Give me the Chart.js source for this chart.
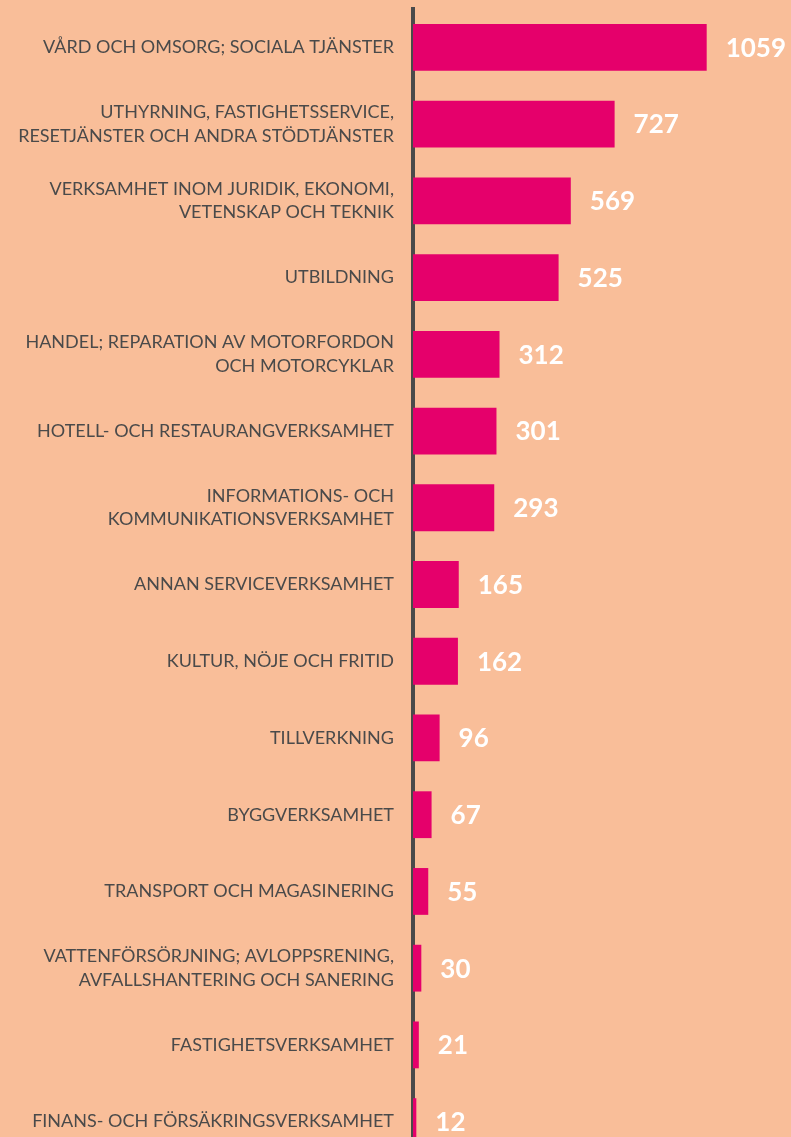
<!DOCTYPE html>
<html>
<head>
<meta charset="utf-8">
<script src="https://cdn.jsdelivr.net/npm/chart.js@4"></script>
<style>
  html, body { margin: 0; padding: 0; overflow: hidden; background: #F9BE99; }
  #wrap { width: 791px; height: 1160px; }
</style>
</head>
<body>
<div id="wrap"><canvas id="myChart"></canvas></div>
<script>
// branscher (labels split on lines like in the original)
const categories = [
  ["VÅRD OCH OMSORG; SOCIALA TJÄNSTER"],
  ["UTHYRNING, FASTIGHETSSERVICE,", "RESETJÄNSTER OCH ANDRA STÖDTJÄNSTER"],
  ["VERKSAMHET INOM JURIDIK, EKONOMI,", "VETENSKAP OCH TEKNIK"],
  ["UTBILDNING"],
  ["HANDEL; REPARATION AV MOTORFORDON", "OCH MOTORCYKLAR"],
  ["HOTELL- OCH RESTAURANGVERKSAMHET"],
  ["INFORMATIONS- OCH", "KOMMUNIKATIONSVERKSAMHET"],
  ["ANNAN SERVICEVERKSAMHET"],
  ["KULTUR, NÖJE OCH FRITID"],
  ["TILLVERKNING"],
  ["BYGGVERKSAMHET"],
  ["TRANSPORT OCH MAGASINERING"],
  ["VATTENFÖRSÖRJNING; AVLOPPSRENING,", "AVFALLSHANTERING OCH SANERING"],
  ["FASTIGHETSVERKSAMHET"],
  ["FINANS- OCH FÖRSÄKRINGSVERKSAMHET"]
];
const values = [1059, 727, 569, 525, 312, 301, 293, 165, 162, 96, 67, 55, 30, 21, 12];

const valueLabels = {
  id: "valueLabels",
  afterDatasetsDraw(chart) {
    const ctx = chart.ctx;
    const meta = chart.getDatasetMeta(0);
    ctx.save();
    ctx.fillStyle = "#ffffff";
    ctx.font = "bold 26px Lato";
    ctx.textAlign = "left";
    ctx.textBaseline = "middle";
    meta.data.forEach((bar, i) => {
      ctx.fillText(values[i], bar.x + 19, bar.y + 1);
    });
    ctx.restore();
  }
};

const ctx = document.getElementById("myChart").getContext("2d");
const myChart = new Chart(ctx, {
  type: "bar",
  data: {
    labels: categories,
    datasets: [{
      data: values,
      backgroundColor: "#E5006B",
      borderWidth: 0,
      barPercentage: 0.61,
      categoryPercentage: 1
    }]
  },
  options: {
    indexAxis: "y",
    responsive: true,
    maintainAspectRatio: false,
    animation: false,
    layout: { padding: { top: 9, right: 0, bottom: 0, left: 0 } },
    plugins: { legend: { display: false }, tooltip: { enabled: false } },
    scales: {
      x: { display: false, min: 0, max: 1363 },
      y: {
        z: 1,
        afterFit(scale) {
          scale.width = 413;
          scale.paddingTop = 0;
          scale.paddingBottom = 0;
        },
        grid: { display: false },
        border: { display: true, color: "#4a4a4a", width: 4 },
        ticks: {
          color: "#4a4a4a",
          padding: 11,
          font: { family: "Lato", size: 18, lineHeight: 23.3 / 18 }
        }
      }
    }
  },
  plugins: [valueLabels]
});
</script>
</body>
</html>
